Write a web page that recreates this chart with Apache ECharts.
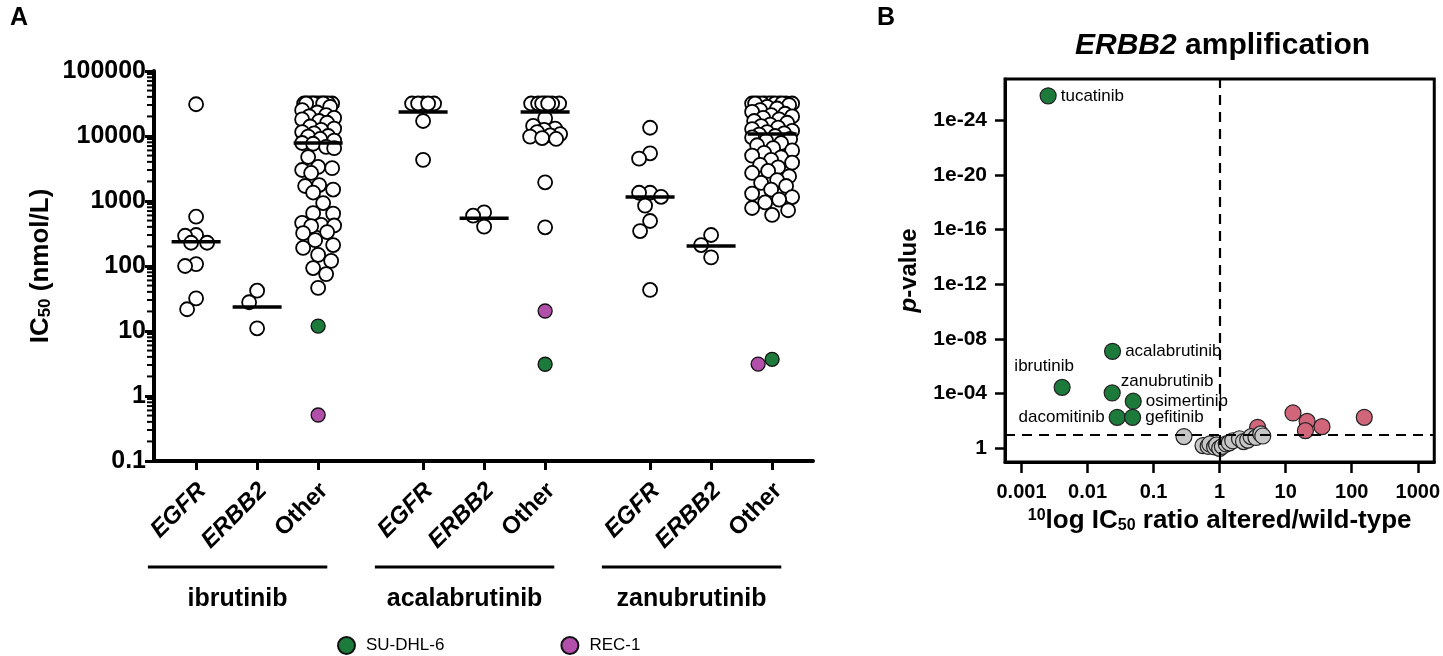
<!DOCTYPE html>
<html>
<head>
<meta charset="utf-8">
<script src="https://cdn.jsdelivr.net/npm/echarts@6/dist/echarts.min.js"></script>
<style>
html, body { margin: 0; padding: 0; background: #fff; }
#main { width: 1443px; height: 656px; }
</style>
</head>
<body>
<div id="main"></div>
<script>
// ---- panel A: IC50 (nmol/L) per drug and alteration group ----
var drugs = ['ibrutinib', 'acalabrutinib', 'zanubrutinib'];
var genes = ['EGFR', 'ERBB2', 'Other'];

var ibrutinibEGFR = [30800, 573, 300, 292, 228, 228, 107, 100, 31.8, 21.6];
var ibrutinibERBB2 = [41.7, 27.7, 11.0];
var ibrutinibOther = [31600, 31600, 31600, 31600, 31600, 31600, 31600, 31600, 31600, 31600, 31600, 31600,
  28000, 25000, 23000, 21000, 20000, 19000, 18000, 17000, 16000, 14000, 13000, 12400, 11500, 11000,
  10000, 9800, 9000, 8500, 7800, 7600, 6800, 6500, 4750, 3340, 3200, 3000, 2700, 1760, 1700, 1500,
  1350, 930, 650, 640, 460, 430, 420, 410, 333, 320, 250, 210, 190, 148, 120, 93, 75, 46];

var acalabrutinibEGFR = [31600, 31600, 31600, 31600, 31600, 17000, 4300];
var acalabrutinibERBB2 = [670, 594, 403];
var acalabrutinibOther = [31600, 31600, 31600, 31600, 31600, 31600, 31600, 18700, 14300, 13000, 12400,
  11500, 10700, 10200, 9800, 9300, 9000, 1940, 394];

var zanubrutinibEGFR = [13400, 5420, 4480, 1340, 1340, 1160, 848, 492, 345, 42.8];
var zanubrutinibERBB2 = [300, 210, 136];
var zanubrutinibOther = [610, 720, 780, 950, 1050, 1150, 1300, 1500, 1700, 1900, 2100, 2400, 2700, 2900,
  3300, 3600, 3900, 4300, 4700, 5000, 5500, 6000, 6500, 7200, 7800, 8400, 9000, 9500, 10000, 10500,
  11000, 11500, 12000, 12800, 13500, 14200, 15000, 16000, 17000, 18000, 19000, 20000, 21000, 22000,
  23500, 25000, 26500, 28000, 30000, 31600, 31600, 31600, 31600, 31600, 31600, 31600, 31600, 31600,
  31600, 31600, 31600];

// highlighted cell lines, one value per drug ("Other" group)
var suDhl6 = [11.9, 3.08, 3.67];
var rec1 = [0.51, 20.3, 3.1];
// median line of each of the 9 groups
var medians = [237, 23.4, 7800, 23400, 542, 23400, 1150, 203, 10700];

// ---- panel B: ERBB2 amplification ----
var greenNames = ['tucatinib', 'acalabrutinib', 'ibrutinib', 'zanubrutinib', 'osimertinib', 'dacomitinib', 'gefitinib'];
var greenRatio = [0.00253, 0.0239, 0.00412, 0.0236, 0.0492, 0.0281, 0.0481];
var greenP = [1.7e-26, 8.1e-8, 3.5e-5, 8.9e-5, 3.6e-4, 5.4e-3, 5.4e-3];
var redRatio = [12.9, 21.1, 35.5, 19.9, 155, 3.76];
var redP = [2.6e-3, 1.07e-2, 2.6e-2, 5.1e-2, 5.4e-3, 2.9e-2];
var greyRatio = [0.288, 0.56, 0.67, 0.71, 0.84, 0.9, 1.0, 1.1, 1.26, 1.4, 1.58, 2.0, 2.3, 2.66, 3.0, 3.55, 4.2, 4.5];
var greyP = [0.138, 0.63, 0.71, 0.48, 0.79, 0.56, 1.0, 0.71, 0.48, 0.4, 0.28, 0.2, 0.32, 0.25, 0.14, 0.16, 0.089, 0.126];
var xTicksB = [0.001, 0.01, 0.1, 1, 10, 100, 1000];
var yTicksB = [1, 1e-4, 1e-8, 1e-12, 1e-16, 1e-20, 1e-24];
var ratioCut = 1;
var pCut = 0.1;

var chart = echarts.init(document.getElementById('main'));
var font = 'Liberation Sans';
var green = '#1c7b3b', purple = '#b24fab', pink = '#d1667a', grey = '#c6c6c6';

var step = 3.72; // distance between drug groups on the x axis
var xMinA = -0.69, xMaxA = 10.11;
function groupX(g, k) { return g * step + k; }
var tickPos = [];
drugs.forEach(function (d, g) {
  genes.forEach(function (n, k) { tickPos.push(groupX(g, k)); });
});
var labelPos = tickPos.map(function (t) { return t + 0.1; });
var whiteSets = [ibrutinibEGFR, ibrutinibERBB2, ibrutinibOther,
  acalabrutinibEGFR, acalabrutinibERBB2, acalabrutinibOther,
  zanubrutinibEGFR, zanubrutinibERBB2, zanubrutinibOther];
var swarmHalf = [11, 11, 16, 11, 11, 15, 11, 11, 20];

// minor log ticks 2..9 of each decade
var minorA = [];
for (var e = -1; e < 5; e++) {
  for (var m = 2; m <= 9; m++) minorA.push(+(m * Math.pow(10, e)).toPrecision(2));
}
function nlog(p) { return -Math.log10(p); }
var yTickValB = yTicksB.map(function (p) { return Math.round(nlog(p)); });

var labelPlace = {
  tucatinib: ['right', [0, 0]],
  acalabrutinib: ['right', [0, 0]],
  ibrutinib: ['top', [-18, 0]],
  zanubrutinib: ['right', [-4, -12]],
  osimertinib: ['right', [0, 0]],
  dacomitinib: ['left', [0, 0]],
  gefitinib: ['right', [0, 0]]
};

var boldLab = { color: '#000', fontWeight: 'bold', fontFamily: font };

var option = {
  animation: false,
  textStyle: { fontFamily: font },
  title: [
    { text: 'A', left: 10, top: 6, padding: 0, textStyle: { fontSize: 25, fontWeight: 'bold', color: '#000' } },
    { text: 'B', left: 877, top: 6, padding: 0, textStyle: { fontSize: 25, fontWeight: 'bold', color: '#000' } },
    {
      text: '{i|ERBB2} amplification', left: 1075, top: 31, padding: 0,
      textStyle: {
        fontSize: 30, fontWeight: 'bold', color: '#000',
        rich: { i: { fontSize: 30, fontWeight: 'bold', fontStyle: 'italic', color: '#000' } }
      }
    }
  ],
  legend: {
    data: ['SU-DHL-6', 'REC-1'],
    left: 332, top: 631, itemGap: 116, itemWidth: 17, itemHeight: 17, icon: 'circle',
    textStyle: { fontSize: 17, color: '#000', padding: [0, 0, 0, 6] }
  },
  grid: [
    { left: 154, top: 71, width: 659, height: 390 },
    { left: 1005, top: 79, width: 432, height: 383, show: true, borderColor: '#000', borderWidth: 3 }
  ],
  xAxis: [
    {
      type: 'value', gridIndex: 0, min: xMinA, max: xMaxA,
      axisLine: { show: true, onZero: false, lineStyle: { color: '#000', width: 4 } },
      axisTick: { show: true, customValues: tickPos, length: 9, lineStyle: { color: '#000', width: 3 } },
      axisLabel: {
        customValues: labelPos, rotate: 45, margin: 26,
        formatter: function (v) {
          var best = 0;
          labelPos.forEach(function (t, i) { if (Math.abs(t - v) < Math.abs(labelPos[best] - v)) best = i; });
          var n = genes[best % 3];
          return n === 'Other' ? '{n|' + n + '}' : '{i|' + n + '}';
        },
        rich: {
          i: { fontSize: 24, fontWeight: 'bold', fontStyle: 'italic', color: '#000' },
          n: { fontSize: 24, fontWeight: 'bold', color: '#000' }
        }
      },
      splitLine: { show: false }
    },
    {
      type: 'log', gridIndex: 1, min: Math.pow(10, -3.25), max: Math.pow(10, 3.25),
      axisLine: { show: true, onZero: false, lineStyle: { color: '#000', width: 3 } },
      axisTick: { show: true, customValues: xTicksB, length: 11, lineStyle: { color: '#000', width: 2.5 } },
      axisLabel: Object.assign({ customValues: xTicksB, fontSize: 20, margin: 20,
        formatter: function (v) { return String(+(+v).toPrecision(3)); } }, boldLab),
      splitLine: { show: false },
      name: '{sup|10}log IC{sub|50} ratio altered/wild-type',
      nameLocation: 'middle', nameGap: 46,
      nameTextStyle: {
        fontSize: 26, fontWeight: 'bold', color: '#000',
        rich: {
          sup: { fontSize: 16, fontWeight: 'bold', color: '#000', verticalAlign: 'top' },
          sub: { fontSize: 16, fontWeight: 'bold', color: '#000', verticalAlign: 'bottom', padding: [8, 0, 0, 0] }
        }
      }
    }
  ],
  yAxis: [
    {
      type: 'log', gridIndex: 0, min: 0.1, max: 100000,
      axisLine: { show: true, onZero: false, lineStyle: { color: '#000', width: 4 } },
      axisTick: { show: true, length: 9, lineStyle: { color: '#000', width: 3 } },
      axisLabel: Object.assign({ fontSize: 25, margin: 8,
        formatter: function (v) { return String(+(+v).toPrecision(2)); } }, boldLab),
      splitLine: { show: false },
      name: 'IC{s|50} (nmol/L)', nameLocation: 'middle', nameGap: 100,
      nameTextStyle: {
        fontSize: 26, fontWeight: 'bold', color: '#000',
        rich: { s: { fontSize: 17, fontWeight: 'bold', color: '#000', verticalAlign: 'bottom', padding: [10, 0, 0, 0] } }
      }
    },
    {
      type: 'value', gridIndex: 1, min: -1, max: 27,
      axisLine: { show: true, onZero: false, lineStyle: { color: '#000', width: 3 } },
      axisTick: { show: true, customValues: yTickValB, length: 10, lineStyle: { color: '#000', width: 2.5 } },
      axisLabel: Object.assign({ customValues: yTickValB, fontSize: 21, margin: 18,
        formatter: function (v) { return v === 0 ? '1' : '1e-' + (v < 10 ? '0' : '') + v; } }, boldLab),
      splitLine: { show: false },
      name: '{i|p}-value', nameLocation: 'middle', nameGap: 84,
      nameTextStyle: {
        fontSize: 24, fontWeight: 'bold', color: '#000',
        rich: { i: { fontSize: 24, fontWeight: 'bold', fontStyle: 'italic', color: '#000' } }
      }
    }
  ],
  series: []
};
chart.setOption(option);

// simple beeswarm: spread equal-ish values sideways inside a limited width
var unitPx = chart.convertToPixel({ xAxisIndex: 0 }, 1) - chart.convertToPixel({ xAxisIndex: 0 }, 0);
var dia = 14;
function swarm(items, cx, half) {
  items.forEach(function (it) { it.py = chart.convertToPixel({ yAxisIndex: 0 }, it.v); });
  items.sort(function (a, b) { return a.py - b.py; });
  var placed = [];
  items.forEach(function (it) {
    var bestOff = 0, bestGap = -1;
    for (var k = 0; k <= 2 * half; k++) {
      var off = k === 0 ? 0 : (k % 2 ? -(k + 1) / 2 : k / 2);
      var gap = Infinity;
      placed.forEach(function (p) {
        var d = Math.sqrt((p.off - off) * (p.off - off) + (p.py - it.py) * (p.py - it.py));
        if (d < gap) gap = d;
      });
      if (gap >= dia) { bestOff = off; break; }
      if (gap > bestGap) { bestGap = gap; bestOff = off; }
    }
    it.off = bestOff;
    placed.push(it);
  });
  items.forEach(function (it) { it.x = cx + it.off / unitPx; });
}

var whiteData = [], greenData = [], purpleData = [];
whiteSets.forEach(function (vals, i) {
  var items = vals.map(function (v) { return { v: v, s: 'w' }; });
  if (i % 3 === 2) {
    var g = (i - 2) / 3;
    items.push({ v: suDhl6[g], s: 'g' });
    items.push({ v: rec1[g], s: 'p' });
  }
  swarm(items, tickPos[i], swarmHalf[i]);
  items.forEach(function (it) {
    var pt = [it.x, it.v];
    if (it.s === 'w') whiteData.push(pt);
    else if (it.s === 'g') greenData.push(pt);
    else purpleData.push(pt);
  });
});

var dotA = { type: 'scatter', xAxisIndex: 0, yAxisIndex: 0, symbolSize: 14, silent: true };
var dotB = { type: 'scatter', xAxisIndex: 1, yAxisIndex: 1, symbolSize: 16, silent: true };

var graphics = [];
drugs.forEach(function (d, g) {
  var x0 = chart.convertToPixel({ xAxisIndex: 0 }, groupX(g, 0) - 0.79);
  var x1 = chart.convertToPixel({ xAxisIndex: 0 }, groupX(g, 2) + 0.15);
  graphics.push({ type: 'line', shape: { x1: x0, y1: 567, x2: x1, y2: 567 }, style: { stroke: '#000', lineWidth: 3 } });
  graphics.push({
    type: 'text', x: (x0 + x1) / 2, y: 599,
    style: { text: d, font: 'bold 25px "' + font + '"', fill: '#000', align: 'center', verticalAlign: 'middle' }
  });
});

chart.setOption({
  graphic: graphics,
  series: [
    {
      // minor ticks of the log IC50 axis
      type: 'custom', name: 'minorTicks', xAxisIndex: 0, yAxisIndex: 0, silent: true, clip: false, z: 1,
      data: minorA.map(function (v) { return [xMinA, v]; }),
      renderItem: function (params, api) {
        var p = api.coord([api.value(0), api.value(1)]);
        return { type: 'line', shape: { x1: p[0] - 7, y1: p[1], x2: p[0], y2: p[1] },
          style: { stroke: '#000', lineWidth: 2 } };
      }
    },
    Object.assign({}, dotA, { name: 'cells', z: 2, data: whiteData,
      itemStyle: { color: '#fff', borderColor: '#000', borderWidth: 1.8, opacity: 1 } }),
    Object.assign({}, dotA, { name: 'SU-DHL-6', z: 3, data: greenData,
      itemStyle: { color: green, borderColor: '#111', borderWidth: 1.3, opacity: 1 } }),
    Object.assign({}, dotA, { name: 'REC-1', z: 3, data: purpleData,
      itemStyle: { color: purple, borderColor: '#111', borderWidth: 1.3, opacity: 1 } }),
    Object.assign({}, dotA, { name: 'median', z: 5, symbol: 'rect', symbolSize: [49, 3.5],
      itemStyle: { color: '#000', opacity: 1 },
      data: medians.map(function (v, i) { return [tickPos[i], v]; }) }),
    {
      type: 'scatter', name: 'cutoffs', xAxisIndex: 1, yAxisIndex: 1, data: [], z: 1, silent: true,
      markLine: {
        silent: true, symbol: 'none', label: { show: false },
        lineStyle: { color: '#000', width: 2.2, type: [10, 7], opacity: 1 },
        data: [{ xAxis: ratioCut }, { yAxis: nlog(pCut) }]
      }
    },
    Object.assign({}, dotB, { name: 'increased', z: 2,
      itemStyle: { color: pink, borderColor: '#222', borderWidth: 1.2, opacity: 1 },
      data: redRatio.map(function (r, i) { return [r, nlog(redP[i])]; }) }),
    Object.assign({}, dotB, { name: 'ns', z: 3,
      itemStyle: { color: grey, borderColor: '#222', borderWidth: 1.2, opacity: 1 },
      data: greyRatio.map(function (r, i) { return [r, nlog(greyP[i])]; }) }),
    Object.assign({}, dotB, { name: 'decreased', z: 4,
      itemStyle: { color: green, borderColor: '#222', borderWidth: 1.2, opacity: 1 },
      data: greenNames.map(function (n, i) {
        return {
          name: n, value: [greenRatio[i], nlog(greenP[i])],
          label: { show: true, formatter: n, position: labelPlace[n][0], offset: labelPlace[n][1],
            distance: 4, fontSize: 17, color: '#000' }
        };
      }) })
  ]
});
</script>
</body>
</html>
